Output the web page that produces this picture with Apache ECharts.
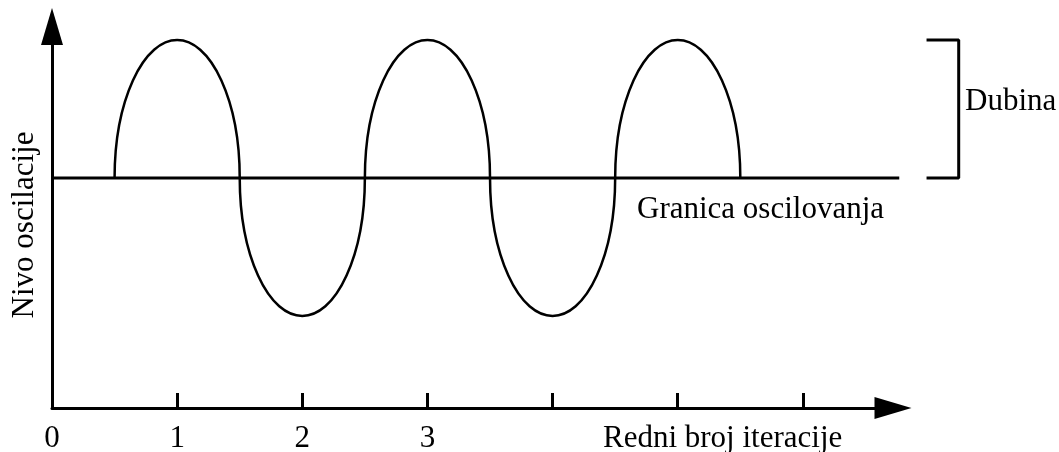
<!DOCTYPE html>
<html>
<head>
<meta charset="utf-8">
<script src="https://cdn.jsdelivr.net/npm/echarts@6/dist/echarts.min.js"></script>
<style>
  html, body { margin: 0; padding: 0; background: #fff; }
  #chart { width: 1059px; height: 452px; }
</style>
</head>
<body>
<div id="chart"></div>
<script>
// Half-wave lobes of the oscillation: centre on the iteration axis and peak level
const lobeCentres = [1, 2, 3, 4, 5];
const lobePeaks = [1, -1, 1, -1, 1];
const lobeHalfWidth = 0.5;

// Oscillation boundary (level 0) drawn across the plot
const boundaryX = [0, 6.77];
const boundaryLevel = 0;

// Depth bracket on the right: horizontal reach and the two levels it spans
const bracketX = [7.0, 7.245];
const bracketLevels = [1, 0];

// Iteration axis ticks and their labels
const tickValues = [1, 2, 3, 4, 5, 6];
const labelValues = [0, 1, 2, 3];

// Axis extents: the drawn axes, and a wider overlay for marks past the arrow
const xRange = [0, 6.72];
const xOverlayRange = [0, 8];
const yRange = [-1.667, 1.098];

const FONT = '"Liberation Serif", "Times New Roman", serif';
const FONT_SIZE = 31;
const INK = '#000';

// Layout of the plotting area
const LEFT = 52, TOP = 26.5, BOTTOM = 44;
const AXIS_RIGHT = 166;
const W = 1059;
const unitPx = (W - LEFT - AXIS_RIGHT) / (xRange[1] - xRange[0]);
const OVERLAY_RIGHT = W - LEFT - unitPx * (xOverlayRange[1] - xOverlayRange[0]);

const chart = echarts.init(document.getElementById('chart'), null, { renderer: 'canvas' });

const lobeData = lobeCentres.map((c, i) => [c, lobePeaks[i]]);
const boundaryData = boundaryX.map(x => [x, boundaryLevel]);
const bracketData = [
  [bracketX[0], bracketLevels[0]],
  [bracketX[1], bracketLevels[0]],
  [bracketX[1], bracketLevels[1]],
  [bracketX[0], bracketLevels[1]]
];

const hiddenAxis = {
  show: false,
  axisLine: { show: false },
  axisTick: { show: false },
  axisLabel: { show: false },
  splitLine: { show: false }
};

chart.setOption({
  backgroundColor: '#fff',
  animation: false,
  grid: [
    { left: LEFT, right: AXIS_RIGHT, top: TOP, bottom: BOTTOM, containLabel: false, outerBoundsMode: 'none' },
    { left: LEFT, right: OVERLAY_RIGHT, top: TOP, bottom: BOTTOM, containLabel: false, outerBoundsMode: 'none' }
  ],
  xAxis: [
    {
      type: 'value',
      gridIndex: 0,
      min: xRange[0],
      max: xRange[1],
      interval: 1,
      axisLine: {
        show: true,
        onZero: false,
        symbol: ['none', 'triangle'],
        symbolSize: [22, 37],
        lineStyle: { color: INK, width: 3 }
      },
      axisTick: {
        show: true,
        inside: true,
        length: 15,
        customValues: tickValues,
        lineStyle: { color: INK, width: 3 }
      },
      axisLabel: {
        show: true,
        customValues: labelValues,
        color: INK,
        fontFamily: FONT,
        fontSize: FONT_SIZE,
        margin: 15
      },
      splitLine: { show: false }
    },
    Object.assign({ type: 'value', gridIndex: 1, min: xOverlayRange[0], max: xOverlayRange[1] }, hiddenAxis)
  ],
  yAxis: [
    {
      type: 'value',
      gridIndex: 0,
      min: yRange[0],
      max: yRange[1],
      axisLine: {
        show: true,
        onZero: false,
        symbol: ['none', 'triangle'],
        symbolSize: [22, 37],
        lineStyle: { color: INK, width: 3 }
      },
      axisTick: { show: false },
      axisLabel: { show: false },
      splitLine: { show: false }
    },
    Object.assign({ type: 'value', gridIndex: 1, min: yRange[0], max: yRange[1] }, hiddenAxis)
  ],
  series: [
    {
      type: 'line',
      xAxisIndex: 1,
      yAxisIndex: 1,
      data: boundaryData,
      symbol: 'none',
      clip: false,
      lineStyle: { color: INK, width: 3 },
      z: 3
    },
    {
      type: 'line',
      xAxisIndex: 1,
      yAxisIndex: 1,
      data: bracketData,
      symbol: 'none',
      clip: false,
      lineStyle: { color: INK, width: 3, cap: 'square' },
      z: 3
    },
    {
      type: 'custom',
      xAxisIndex: 0,
      yAxisIndex: 0,
      data: lobeData,
      clip: false,
      z: 4,
      renderItem: function (params, api) {
        const c = api.value(0);
        const p = api.value(1);
        const left = api.coord([c - lobeHalfWidth, 0]);
        const right = api.coord([c + lobeHalfWidth, 0]);
        const apex = api.coord([c, p]);
        const rx = (right[0] - left[0]) / 2;
        const ry = Math.abs(apex[1] - left[1]);
        const sweep = p > 0 ? 1 : 0;
        return {
          type: 'path',
          shape: {
            pathData: 'M' + left[0] + ' ' + left[1] +
              ' A' + rx + ' ' + ry + ' 0 0 ' + sweep + ' ' + right[0] + ' ' + right[1]
          },
          style: { fill: 'none', stroke: INK, lineWidth: 2.5 }
        };
      }
    }
  ],
  graphic: [
    {
      type: 'text', x: 25, y: 225, rotation: Math.PI / 2,
      style: { text: 'Nivo oscilacije', fill: INK, font: FONT_SIZE + 'px ' + FONT, align: 'center', verticalAlign: 'middle' }
    },
    {
      type: 'text', x: 637, y: 210,
      style: { text: 'Granica oscilovanja', fill: INK, font: FONT_SIZE + 'px ' + FONT, align: 'left', verticalAlign: 'middle' }
    },
    {
      type: 'text', x: 603, y: 439,
      style: { text: 'Redni broj iteracije', fill: INK, font: FONT_SIZE + 'px ' + FONT, align: 'left', verticalAlign: 'middle' }
    },
    {
      type: 'text', x: 965, y: 102,
      style: { text: 'Dubina', fill: INK, font: FONT_SIZE + 'px ' + FONT, align: 'left', verticalAlign: 'middle' }
    }
  ]
});
</script>
</body>
</html>
